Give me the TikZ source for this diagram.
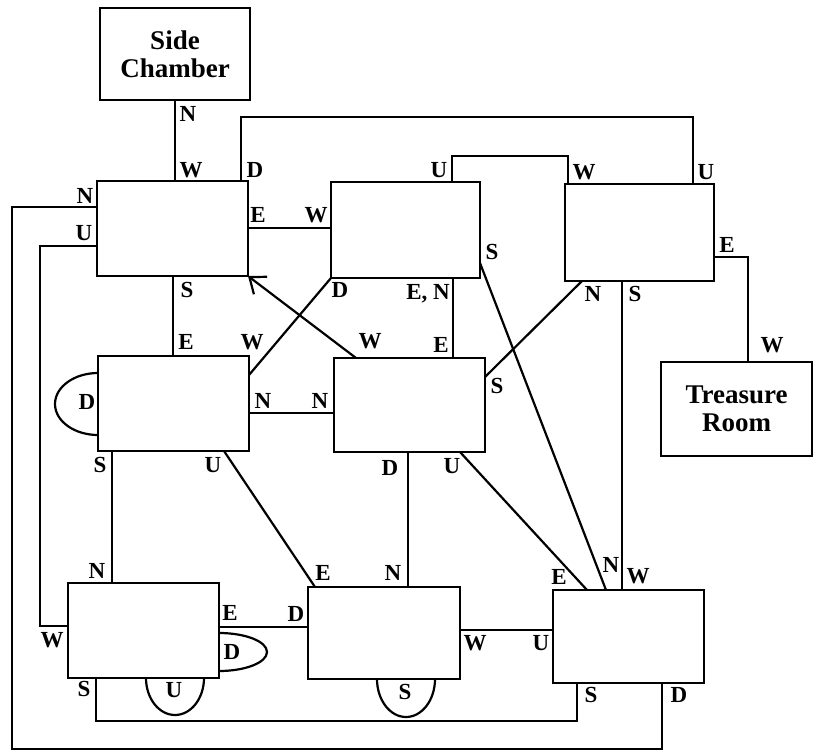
\documentclass[tikz,border=0pt]{standalone}
\usepackage{fontspec}
\setmainfont{Liberation Serif}
\usetikzlibrary{arrows.meta}
\begin{document}
\begin{tikzpicture}[x=1pt,y=-1pt,line width=2.2pt,
  room/.style={draw,line width=2.2pt,rectangle,inner sep=0pt,outer sep=0pt,anchor=north west},
  title/.style={font=\fontsize{27}{28}\selectfont\bfseries,align=center},
  lbl/.style={font=\fontsize{23}{23}\selectfont\bfseries,inner sep=0pt,text depth=0pt},
  link/.style={line width=2.2pt,line join=miter}]
\useasboundingbox (0,0) rectangle (814,755);
% rooms
\node[room,title,minimum width=150pt,minimum height=92pt] (SC) at (100,8) {Side\\Chamber};
\node[room,title,minimum width=151pt,minimum height=94pt] (T) at (661,362) {Treasure\\Room};
\node[room,minimum width=151pt,minimum height=95pt] (A) at (97,181) {};
\node[room,minimum width=149pt,minimum height=96pt] (B) at (331,182) {};
\node[room,minimum width=149pt,minimum height=97pt] (C) at (565,184) {};
\node[room,minimum width=151pt,minimum height=95pt] (D) at (98,356) {};
\node[room,minimum width=151pt,minimum height=94pt] (E) at (334,358) {};
\node[room,minimum width=151pt,minimum height=95pt] (F) at (68,583) {};
\node[room,minimum width=152pt,minimum height=92pt] (G) at (308,587) {};
\node[room,minimum width=151pt,minimum height=93pt] (H) at (553,590) {};
% connectors
\draw[link] (SC.south) -- (SC.south |- A.north);
\draw[link] (A.north -| 241,0) -- (241,117) -- (693,117) -- (C.north -| 693,0);
\draw[link] (A.east |- 0,228) -- (B.west |- 0,228);
\draw[link] (A.west |- 0,207) -- (12,207) -- (12,749) -- (662,749) -- (H.south -| 662,0);
\draw[link] (A.west |- 0,246) -- (40,246) -- (40,626) -- (F.west |- 0,626);
\draw[link] (A.south -| 173,0) -- (D.north -| 173,0);
\draw[link,-{Straight Barb[length=14pt,width=22pt]}] (E.north -| 356,0) -- (A.south east);
\draw[link] (B.south west) -- (D.east |- 0,375);
\draw[link] (B.south -| 453,0) -- (E.north -| 453,0);
\draw[link] (B.east |- 0,263) -- (H.north -| 606,0);
\draw[link] (C.south -| 582,0) -- (E.east |- 0,377);
\draw[link] (C.south -| 622,0) -- (H.north -| 622,0);
\draw[link] (C.east |- 0,257) -- (748,257) -- (T.north -| 748,0);
\draw[link] (B.north -| 452,0) -- (452,156) -- (568,156) -- (C.north -| 568,0);
\draw[link] (D.east |- 0,413) -- (E.west |- 0,413);
\draw[link] (D.west |- 0,373) arc[start angle=270,end angle=90,x radius=43,y radius=31];
\draw[link] (D.south -| 112,0) -- (F.north -| 112,0);
\draw[link] (D.south -| 224,0) -- (G.north -| 315,0);
\draw[link] (E.south -| 408,0) -- (G.north -| 408,0);
\draw[link] (E.south -| 460,0) -- (H.north -| 587,0);
\draw[link] (F.east |- 0,627) -- (G.west |- 0,627);
\draw[link] (F.east |- 0,633) arc[start angle=-90,end angle=90,x radius=48,y radius=19];
\draw[link] (F.south -| 146,0) arc[start angle=180,end angle=0,x radius=29,y radius=37];
\draw[link] (F.south -| 96,0) -- (96,721) -- (577,721) -- (H.south -| 577,0);
\draw[link] (G.south -| 377,0) arc[start angle=180,end angle=0,x radius=29,y radius=38];
\draw[link] (G.east |- 0,630) -- (H.west |- 0,630);
% labels
\foreach \x/\y/\t [count=\i] in {
  188/114/N, 191/170/W, 255/170/D, 85/196/N, 84/233/U, 258/215/E, 316/215/W,
  187/290/S, 340/290/D, 439/170/U, 584/172/W, 706/172/U, 492/252/S, 727/245/E,
  428/292/{E, N}, 593/294/N, 635/294/S, 441/345/E, 772/345/W, 497/386/S,
  186/342/E, 252/342/W, 370/341/W, 87/402/D, 263/401/N, 320/401/N,
  100/465/S, 213/465/U, 390/468/D, 97/571/N, 323/573/E, 393/573/N,
  230/613/E, 296/614/D, 52/640/W, 232/652/D, 84/689/S, 174/690/U, 405/692/S,
  452/466/U, 611/565/N, 638/576/W, 559/577/E, 475/643/W, 541/643/U,
  591/695/S, 679/695/D}
  \node[lbl] (L\i) at (\x,\y) {\t};
\end{tikzpicture}
\end{document}
